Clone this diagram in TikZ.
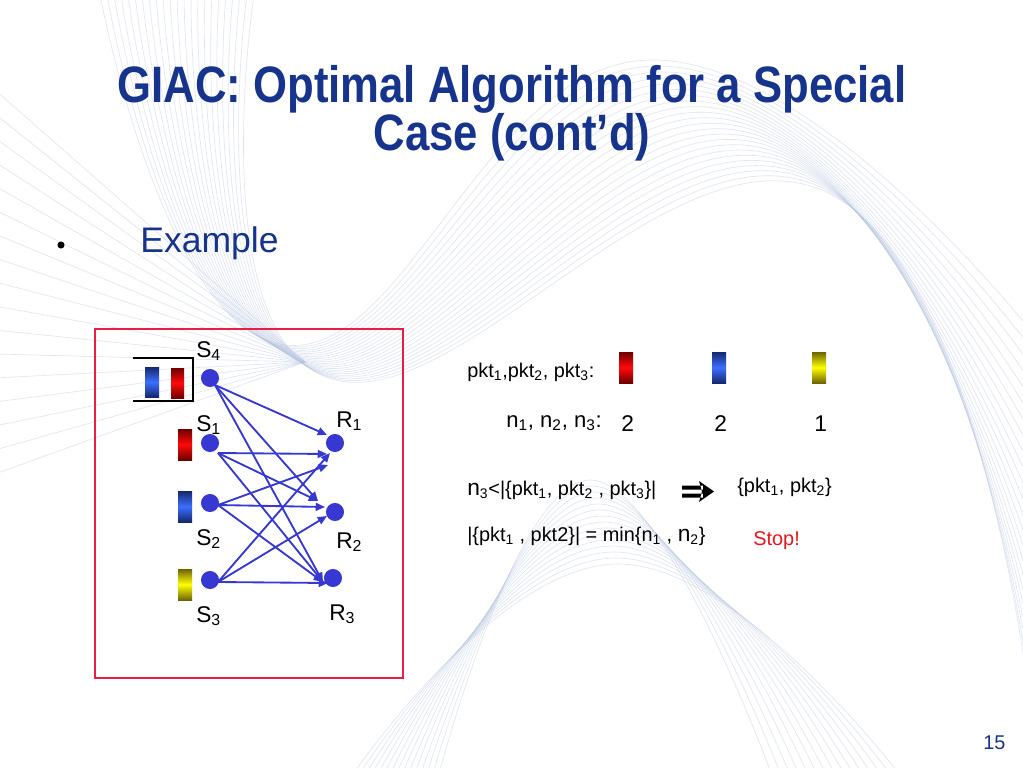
\documentclass[tikz,border=0pt]{standalone}
\usepackage{fontspec}
\setmainfont{Liberation Sans}
\newfontfamily\titlefont[FakeStretch=0.853]{Liberation Sans}
\usetikzlibrary{arrows.meta,calc}
\definecolor{titleblue}{RGB}{22,52,140}
\definecolor{netblue}{RGB}{55,55,210}
\definecolor{framered}{RGB}{232,30,70}
\definecolor{wavecol}{RGB}{185,198,226}
\definecolor{stopred}{RGB}{235,20,30}
\newcommand\sbs[1]{\textsubscript{#1}}
\tikzset{
  wave/.style={wavecol, line width=0.45pt, opacity=0.45},
  station/.style={circle, fill=netblue, draw=none, minimum size=12.7pt, inner sep=0pt},
  edge/.style={netblue, line width=1.3pt, -{Triangle[length=6.5pt,width=5.5pt]}},
  lbl/.style={inner sep=0pt, anchor=base west, font=\fontsize{16}{18}\selectfont},
  txt/.style={inner sep=0pt, anchor=base west, font=\fontsize{14}{16}\selectfont},
  redpkt/.style={top color={rgb,255:red,110;green,0;blue,0}, bottom color={rgb,255:red,110;green,0;blue,0}, middle color={rgb,255:red,255;green,10;blue,10}},
  bluepkt/.style={top color={rgb,255:red,20;green,40;blue,110}, bottom color={rgb,255:red,20;green,40;blue,110}, middle color={rgb,255:red,60;green,110;blue,255}},
  yelpkt/.style={top color={rgb,255:red,110;green,100;blue,0}, bottom color={rgb,255:red,110;green,100;blue,0}, middle color={rgb,255:red,255;green,255;blue,0}},
}
\begin{document}
\begin{tikzpicture}[x=0.7031pt,y=-0.7031pt]
\useasboundingbox (0,0) rectangle (1023,767);
\fill[white] (0,0) rectangle (1023,767);
% background waves
\begin{scope}
\clip (0,0) rectangle (1023,767);
\foreach \k in {0,...,22}{
  \pgfmathsetmacro\ax{100+7*\k}
  \pgfmathsetmacro\bx{285+2*\k}
  \pgfmathsetmacro\by{345+1.5*\k}
  \pgfmathsetmacro\cx{650+8*\k}
  \pgfmathsetmacro\cy{60+6*\k}
  \pgfmathsetmacro\dy{330+17*\k}
  \draw[wave] plot[smooth,tension=0.8] coordinates {(\ax,-5) (\bx,\by) (\cx,\cy) (1030,\dy)};
}
\foreach \k in {0,...,14}{
  \pgfmathsetmacro\ax{440-6*\k}
  \pgfmathsetmacro\bx{590+2*\k}
  \pgfmathsetmacro\by{480+6*\k}
  \pgfmathsetmacro\cx{770+9*\k}
  \draw[wave] plot[smooth,tension=0.8] coordinates {(\ax,770) (\bx,\by) (\cx,770)};
}
\foreach \k in {0,...,16}{
  \pgfmathsetmacro\ay{90+24*\k}
  \draw[wave] (-5,\ay) -- (305,362);
}
\end{scope}
% title
\node[inner sep=0pt, anchor=base, text=titleblue, font=\titlefont\fontsize{36}{40}\bfseries\selectfont] (t1) at (512,102) {GIAC: Optimal Algorithm for a Special};
\node[inner sep=0pt, anchor=base, text=titleblue, font=\titlefont\fontsize{36}{40}\bfseries\selectfont] (t2) at (512,150) {Case (cont’d)};
\node[circle, fill=black, inner sep=0pt, minimum size=5pt] (bul) at (61,245) {};
\node[inner sep=0pt, anchor=base west, text=titleblue, font=\fontsize{25}{28}\selectfont] (ex) at (140,252) {Example};
% frame
\draw[framered, line width=1.4pt] (95,329) rectangle (403,678);
% bracket for S4 buffer
\draw[black, line width=1.2pt] (133,358) -- (193,358) -- (193,401) -- (133,401);
% packets
\shade[bluepkt] (145,367) rectangle (159,397);
\shade[redpkt] (171,368) rectangle (184,398);
\shade[redpkt] (178,429) rectangle (192,460);
\shade[bluepkt] (178,491) rectangle (192,522);
\shade[yelpkt] (178,569) rectangle (192,600);
% stations
\node[station] (S4) at (210,378) {};
\node[station] (S1) at (210,443) {};
\node[station] (S2) at (210,503) {};
\node[station] (S3) at (210,580) {};
\node[station] (R1) at (335,443) {};
\node[station] (R2) at (335,512) {};
\node[station] (R3) at (333,578) {};
% labels
\node[lbl] (lS4) at (196,357) {S\sbs{4}};
\node[lbl] (lS1) at (196,431) {S\sbs{1}};
\node[lbl] (lS2) at (196,545) {S\sbs{2}};
\node[lbl] (lS3) at (196,622) {S\sbs{3}};
\node[lbl] (lR1) at (336,427) {R\sbs{1}};
\node[lbl] (lR2) at (336,548) {R\sbs{2}};
\node[lbl] (lR3) at (329,620) {R\sbs{3}};
% edges
\draw[edge] ($(S4)+(5,7)$) -- ($(R1)+(-8,-8)$);
\draw[edge] ($(S4)+(5,7)$) -- ($(R2)+(-17,-11)$);
\draw[edge] ($(S4)+(5,7)$) -- ($(R3)+(-10,4)$);
\draw[edge] ($(S1)+(8,10)$) -- ($(R1)+(-8,11)$);
\draw[edge] ($(S1)+(8,10)$) -- ($(R2)+(-17,-11)$);
\draw[edge] ($(S1)+(8,10)$) -- ($(R3)+(-10,4)$);
\draw[edge] ($(S2)+(8,2)$) -- ($(R1)+(-7,22)$);
\draw[edge] ($(S2)+(8,2)$) -- ($(R2)+(-10,-5)$);
\draw[edge] ($(S2)+(8,2)$) -- ($(R3)+(-10,4)$);
\draw[edge] ($(S3)+(8,2)$) -- ($(R1)+(-5,10)$);
\draw[edge] ($(S3)+(8,2)$) -- ($(R2)+(-8,4)$);
\draw[edge] ($(S3)+(8,2)$) -- ($(R3)+(-5,5)$);
% right side
\node[txt] (pk) at (467,377) {pkt\sbs{1},pkt\sbs{2}, pkt\sbs{3}:};
\shade[redpkt] (619,352) rectangle (633,383);
\shade[bluepkt] (712,352) rectangle (726,383);
\shade[yelpkt] (812,352) rectangle (826,383);
\node[txt, anchor=base east, font=\fontsize{15.5}{18}\selectfont] (nn) at (602,427) {n\sbs{1}, n\sbs{2}, n\sbs{3}:};
\node[txt, font=\fontsize{16}{18}\selectfont] (d1) at (621,431) {2};
\node[txt, font=\fontsize{16}{18}\selectfont] (d2) at (714,431) {2};
\node[txt, font=\fontsize{16}{18}\selectfont] (d3) at (814,431) {1};
\node[txt] (r3) at (467,495) {{\fontsize{16}{18}\selectfont n}\sbs{3}<|\{pkt\sbs{1}, pkt\sbs{2} , pkt\sbs{3}\}|};
\fill[black] (682,485.5) rectangle (703,489.5) (682,493.5) rectangle (703,497.5)
  (699,481) -- (714,491.5) -- (699,502) -- (702,491.5) -- cycle;
\node[txt] (res) at (737,492) {\{pkt\sbs{1}, pkt\sbs{2}\}};
\node[txt] (r4) at (467,541) {|\{pkt\sbs{1} , pkt2\}| = min\{n\sbs{1} , {\fontsize{16}{18}\selectfont n}\sbs{2}\}};
\node[txt, text=stopred] (stop) at (753,545) {Stop!};
\node[txt, text=titleblue] (pg) at (983,749) {15};
\end{tikzpicture}
\end{document}
